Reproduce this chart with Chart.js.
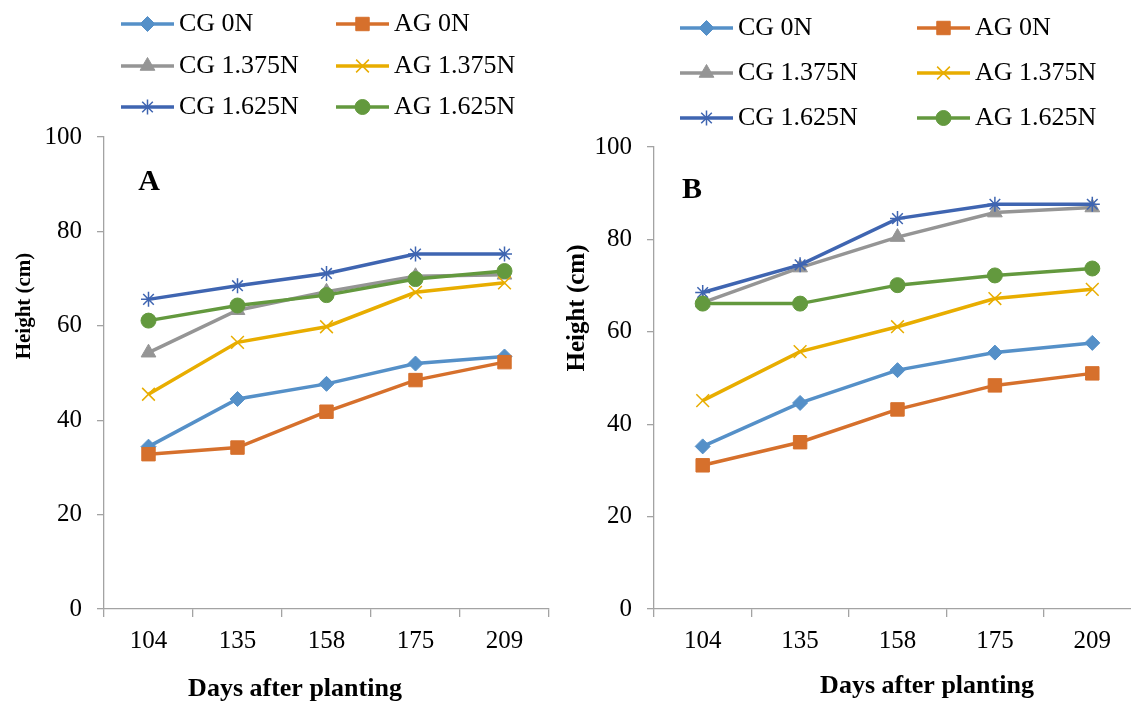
<!DOCTYPE html>
<html>
<head>
<meta charset="utf-8">
<title>Plant height</title>
<script src="https://cdn.jsdelivr.net/npm/chart.js@4.4.0/dist/chart.umd.min.js"></script>
<style>
  html, body { margin: 0; padding: 0; background: #fff; }
  #page { position: relative; width: 1131px; height: 702px; overflow: hidden; }
  .panel { position: absolute; top: 0; height: 702px; }
  #panelA { left: 0; width: 565px; }
  #panelB { left: 565px; width: 600px; }
</style>
</head>
<body>
<div id="page">
  <div class="panel" id="panelA"><canvas id="chartA"></canvas></div>
  <div class="panel" id="panelB"><canvas id="chartB"></canvas></div>
</div>
<script>
// x categories (days after planting) and y range
const days = ['104', '135', '158', '175', '209'];
const yMin = 0, yMax = 100, yStep = 20;

const seriesNames = ['CG 0N', 'AG 0N', 'CG 1.375N', 'AG 1.375N', 'CG 1.625N', 'AG 1.625N'];

// panel A heights (cm)
const cg0A     = [34.4, 44.5, 47.7, 52.0, 53.5];
const ag0A     = [32.8, 34.2, 41.8, 48.5, 52.3];
const cg1375A  = [54.3, 63.3, 67.2, 70.5, 70.8];
const ag1375A  = [45.5, 56.5, 59.8, 67.1, 69.1];
const cg1625A  = [65.6, 68.5, 71.1, 75.2, 75.2];
const ag1625A  = [61.1, 64.3, 66.5, 69.9, 71.6];

// panel B heights (cm)
const cg0B     = [35.2, 44.6, 51.7, 55.5, 57.6];
const ag0B     = [31.1, 36.1, 43.2, 48.4, 51.0];
const cg1375B  = [66.3, 73.9, 80.5, 85.8, 86.9];
const ag1375B  = [45.1, 55.7, 61.1, 67.2, 69.2];
const cg1625B  = [68.5, 74.5, 84.5, 87.6, 87.6];
const ag1625B  = [66.1, 66.1, 70.1, 72.2, 73.7];

// line colour and marker for each series
const seriesStyle = [
  { color: '#5590C8', point: 'rectRot',  r: 7.5, bw: 1 },
  { color: '#D6702C', point: 'rect',     r: 9.5, bw: 1 },
  { color: '#959595', point: 'triangle', r: 8.5, bw: 1 },
  { color: '#E8AD00', point: 'crossRot', r: 9,   bw: 1.5 },
  { color: '#3F65B1', point: 'star',     r: 7.5, bw: 1.5 },
  { color: '#63993E', point: 'circle',   r: 7.5, bw: 1 }
];

const serif = "'Liberation Serif', 'Times New Roman', serif";
const axisGray = '#A3A3A3';

function buildDatasets(values) {
  return values.map((v, i) => {
    const st = seriesStyle[i];
    return {
      label: seriesNames[i],
      data: v,
      borderColor: st.color,
      backgroundColor: st.color,
      pointBackgroundColor: st.color,
      pointBorderColor: st.color,
      pointStyle: st.point,
      pointRadius: st.r,
      pointHoverRadius: st.r,
      pointBorderWidth: st.bw,
      borderWidth: 3.5,
      tension: 0,
      order: values.length - i   // later series drawn on top
    };
  });
}

// legend in a 2-column grid plus the free text (panel letter, axis titles)
const panelDecor = {
  id: 'panelDecor',
  afterDraw(chart, args, opts) {
    const ctx = chart.ctx;
    const lg = opts.legend;
    ctx.save();
    chart.data.datasets.forEach((ds, i) => {
      const x0 = lg.cols[i % 2];
      const y = lg.rows[Math.floor(i / 2)];
      ctx.strokeStyle = ds.borderColor;
      ctx.lineWidth = ds.borderWidth;
      ctx.beginPath();
      ctx.moveTo(x0, y);
      ctx.lineTo(x0 + lg.lineLen, y);
      ctx.stroke();
      ctx.fillStyle = ds.pointBackgroundColor;
      ctx.lineWidth = ds.pointBorderWidth;
      Chart.helpers.drawPoint(ctx, {
        pointStyle: ds.pointStyle,
        radius: ds.pointRadius,
        rotation: 0,
        borderWidth: ds.pointBorderWidth
      }, x0 + lg.lineLen / 2, y);
      ctx.fillStyle = '#000';
      ctx.font = lg.font;
      ctx.textAlign = 'left';
      ctx.textBaseline = 'middle';
      ctx.fillText(ds.label, x0 + lg.lineLen + lg.gap, y);
    });
    opts.texts.forEach(t => {
      ctx.save();
      ctx.translate(t.x, t.y);
      if (t.rot) ctx.rotate(t.rot);
      ctx.fillStyle = '#000';
      ctx.font = t.font;
      ctx.textAlign = 'center';
      ctx.textBaseline = 'middle';
      ctx.fillText(t.text, 0, 0);
      ctx.restore();
    });
    ctx.restore();
  }
};

function makeChart(canvasId, values, cfg) {
  return new Chart(document.getElementById(canvasId), {
    type: 'line',
    data: { labels: days, datasets: buildDatasets(values) },
    options: {
      responsive: true,
      maintainAspectRatio: false,
      animation: false,
      layout: { padding: cfg.padding },
      plugins: {
        legend: { display: false },
        tooltip: { enabled: false },
        panelDecor: { legend: cfg.legend, texts: cfg.texts }
      },
      scales: {
        x: {
          offset: true,
          grid: { offset: true, drawOnChartArea: false, drawTicks: true, tickLength: 8, color: axisGray, lineWidth: 1.3 },
          border: { display: true, color: axisGray, width: 1.3 },
          ticks: { color: '#000', font: { family: serif, size: 25 }, padding: 9, maxRotation: 0, autoSkip: false },
          afterFit(s) { s.height = 93; }
        },
        y: {
          min: yMin,
          max: yMax,
          grid: { drawOnChartArea: false, drawTicks: true, tickLength: 7, color: axisGray, lineWidth: 1.3 },
          border: { display: true, color: axisGray, width: 1.3 },
          ticks: { stepSize: yStep, color: '#000', font: { family: serif, size: 25 }, padding: 15 },
          afterFit(s) { s.width = cfg.yWidth; }
        }
      }
    },
    plugins: [panelDecor]
  });
}

makeChart('chartA', [cg0A, ag0A, cg1375A, ag1375A, cg1625A, ag1625A], {
  padding: { top: 137, right: 16, bottom: 0, left: 0 },
  yWidth: 104,
  legend: { cols: [121, 336], rows: [24, 66, 107], lineLen: 53, gap: 5, font: '26px ' + serif },
  texts: [
    { text: 'A', x: 149, y: 182, font: 'bold 30px ' + serif },
    { text: 'Height (cm)', x: 25, y: 306, rot: -Math.PI / 2, font: 'bold 21px ' + serif },
    { text: 'Days after planting', x: 295, y: 689, font: 'bold 26px ' + serif }
  ]
});

makeChart('chartB', [cg0B, ag0B, cg1375B, ag1375B, cg1625B, ag1625B], {
  padding: { top: 147, right: 24, bottom: 0, left: 0 },
  yWidth: 89,
  legend: { cols: [115, 352], rows: [28, 73, 118], lineLen: 53, gap: 5, font: '26px ' + serif },
  texts: [
    { text: 'B', x: 127, y: 190, font: 'bold 30px ' + serif },
    { text: 'Height (cm)', x: 13, y: 308, rot: -Math.PI / 2, font: 'bold 25px ' + serif },
    { text: 'Days after planting', x: 362, y: 686, font: 'bold 26px ' + serif }
  ]
});
</script>
</body>
</html>
